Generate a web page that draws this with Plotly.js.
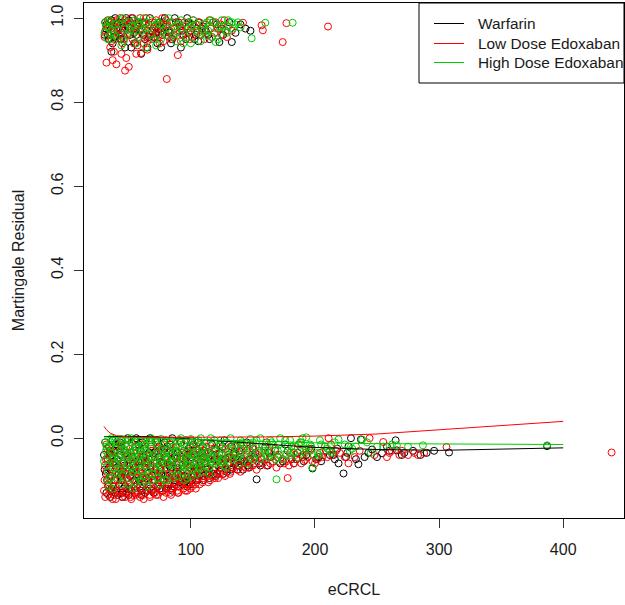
<!DOCTYPE html>
<html>
<head>
<meta charset="utf-8">
<script src="https://cdn.plot.ly/plotly-3.0.1.min.js"></script>
<style>html,body{margin:0;padding:0;background:#fff;}#chart{width:625px;height:605px;}</style>
</head>
<body>
<div id="chart"></div>
<script>
// ---- Data ----
const seriesNames = ["Warfarin", "Low Dose Edoxaban", "High Dose Edoxaban"];

const warfarinX = [
  31,33,35,36,38,40,42,44,46,48,
  32,34,37,39,41,43,45,47,49,50,
  51,52,54,55,57,58,60,61,63,64,
  65,67,68,70,71,73,74,76,77,79,
  80,82,83,85,86,88,89,91,92,94,
  95,97,98,100,101,103,104,106,108,110,
  111,113,115,117,119,121,123,125,127,129,
  131,133,136,139,142,145,148,152,156,160,
  164,168,172,176,181,186,191,197,203,209,
  153,198,219,223,235,246,254,265,266,308,
  387,229,237,215,227,240,258,272,285,296,
  34,39,44,49,53,56,59,62,66,69,
  72,75,78,81,84,87,90,93,96,99,
  102,105,109,112,116,120,124,128,134,140,
  30,32.5,35.5,38.5,41.5,44.5,47.5,50.5,53.5,56.5,
  59.5,62.5,65.5,68.5,71.5,74.5,77.5,80.5,83.5,86.5,
  89.5,92.5,95.5,98.5,101.5,104.5,107.5,110.5,113.5,116.5,
  119.5,122.5,125.5,128.5,131.5,134.5,137.5,141,146,151,
  30.5,33.5,36,39,42,45.5,48.5,51.5,54.5,57.5,
  60.5,63.5,66.5,69.5,72.5,75.5,78.5,81.5,84.5,87.5,
  90.5,93.5,96.5,99.5,102.5,105.5,108.5,111.5,114.5,118,
  35,40,45,50,55,60,65,70,75,80,
  85,90,95,100,105,110,115,120,126,132,
  37,43,49,55,61,67,73,79,85,91,
  31.5,34.5,37.5,40.5,43.5,46.5,49.5,52.5,55.5,58.5,
  61.5,64.5,67.5,70.5,73.5,76.5,79.5,82.5,85.5,88.5,
  91.5,94.5,97.5,100.5,103.5,106.5,109.5,112.5,115.5,118.5,
  135,143,150,157,163,170,178,185,193,201,
  212,218,226,233,243,250,260,270,279,290,
  138,147,155,162,174,183,190,205,216,225,
  // events (upper band)
  31,33,35,37,39,41,43,45,47,49,
  51,53,55,57,59,61,63,65,67,69,
  71,73,75,77,79,82,85,88,91,94,
  97,100,103,106,110,114,118,123,128,133,
  36,44,52,60,68,76,84,92,140,148,
  30.5,32,34,36,38,40,42,44,46,48,
  50,54,58,62,66,70,74,78,83,87,
  93,98,104,109,115,121,126,131,136,144,
  32,35,38,41,45,50,56,63,72,80,
  90,101,112,125,56,66,76,86,96,106
];
const warfarinY = [
  -0.01,-0.05,-0.09,-0.12,-0.03,-0.07,-0.11,-0.02,-0.06,-0.13,
  -0.13,-0.02,-0.06,-0.10,-0.135,-0.04,-0.08,-0.115,-0.005,-0.05,
  -0.09,-0.125,-0.03,-0.07,-0.11,-0.015,-0.055,-0.095,-0.13,-0.04,
  -0.08,-0.12,-0.02,-0.06,-0.10,-0.005,-0.045,-0.085,-0.125,-0.035,
  -0.075,-0.11,-0.015,-0.055,-0.095,-0.03,-0.07,-0.105,-0.01,-0.05,
  -0.09,-0.115,-0.025,-0.065,-0.1,-0.04,-0.08,-0.01,-0.055,-0.09,
  -0.03,-0.07,-0.095,-0.015,-0.05,-0.085,-0.035,-0.065,-0.005,-0.08,
  -0.045,-0.02,-0.06,-0.03,-0.075,-0.01,-0.05,-0.035,-0.065,-0.02,
  -0.045,-0.03,-0.06,-0.015,-0.05,-0.035,-0.055,-0.025,-0.045,-0.03,
  -0.098,-0.072,-0.06,-0.084,-0.062,-0.027,-0.036,-0.005,-0.029,-0.034,
  -0.019,0.0,-0.003,-0.04,-0.02,-0.045,-0.02,-0.035,-0.04,-0.03,
  -0.07,-0.015,-0.1,-0.08,-0.045,0.0,-0.115,-0.025,-0.05,-0.09,
  -0.03,-0.11,-0.06,-0.02,-0.12,-0.045,-0.085,-0.065,-0.005,-0.105,
  -0.015,-0.07,-0.035,-0.085,-0.06,-0.025,-0.07,-0.05,-0.07,-0.055,
  -0.04,-0.1,-0.125,-0.055,-0.02,-0.13,-0.035,-0.11,-0.065,-0.085,
  -0.03,-0.105,-0.06,-0.125,-0.075,-0.02,-0.1,-0.045,-0.07,-0.115,
  -0.035,-0.09,-0.055,-0.08,-0.03,-0.1,-0.065,-0.045,-0.085,-0.04,
  -0.07,-0.055,-0.02,-0.075,-0.06,-0.04,-0.075,-0.05,-0.065,-0.045,
  -0.075,-0.115,-0.04,-0.13,-0.085,-0.12,-0.095,-0.035,-0.1,-0.055,
  -0.125,-0.07,-0.035,-0.1,-0.055,-0.075,-0.025,-0.09,-0.05,-0.1,
  -0.06,-0.11,-0.045,-0.02,-0.09,-0.05,-0.075,-0.06,-0.035,-0.075,
  -0.14,-0.125,-0.14,-0.135,-0.13,-0.135,-0.125,-0.13,-0.12,-0.12,
  -0.125,-0.115,-0.105,-0.11,-0.1,-0.1,-0.085,-0.09,-0.085,-0.075,
  -0.005,-0.01,0.0,-0.005,-0.01,0.0,-0.005,-0.01,0.0,-0.005,
  -0.085,-0.035,-0.115,-0.05,-0.09,-0.065,-0.12,-0.08,-0.02,-0.1,
  -0.045,-0.095,-0.07,-0.035,-0.115,-0.055,-0.09,-0.065,-0.035,-0.08,
  -0.1,-0.03,-0.085,-0.045,-0.07,-0.09,-0.02,-0.075,-0.05,-0.085,
  -0.035,-0.055,-0.025,-0.05,-0.035,-0.045,-0.03,-0.05,-0.04,-0.05,
  -0.04,-0.025,-0.035,-0.05,-0.035,-0.045,-0.03,-0.04,-0.03,-0.035,
  -0.065,-0.07,-0.06,-0.065,-0.055,-0.06,-0.045,-0.055,-0.05,-0.045,
  0.99,0.96,0.98,0.94,1.0,0.97,0.95,0.99,0.93,0.98,
  0.96,1.0,0.94,0.98,0.97,0.99,0.95,0.93,1.0,0.97,
  0.98,0.94,0.99,0.96,1.0,0.97,0.95,0.99,0.98,0.96,
  1.0,0.97,0.95,0.99,0.98,0.96,0.99,0.943,0.97,0.943,
  0.92,0.95,0.93,0.915,0.96,0.93,0.94,0.93,0.985,0.97,
  0.96,0.985,0.95,0.995,0.97,0.955,0.99,0.965,0.975,1.0,
  0.98,0.965,0.99,0.96,0.985,0.955,0.975,0.99,0.965,1.0,
  0.97,0.99,0.96,0.975,0.95,0.985,0.96,0.99,0.965,0.975,
  0.975,0.99,0.955,0.985,0.97,0.995,0.975,0.985,0.965,0.98,
  0.99,0.985,0.97,0.975,0.96,0.955,0.97,0.96,0.95,0.945
];

const lowDoseX = [
  31,32,34,35,37,38,40,41,43,44,
  46,47,49,50,52,53,55,56,58,59,
  61,62,64,65,67,68,70,71,73,74,
  76,77,79,80,82,83,85,86,88,89,
  91,92,94,95,97,98,100,101,103,104,
  106,107,109,110,112,114,116,118,120,122,
  124,126,128,130,132,135,138,141,144,147,
  150,154,158,162,166,170,175,180,185,190,
  178,192,211,227,244,255,268,280,288,306,
  439,196,202,208,214,220,232,262,275,260,
  33,36,39,42,45,48,51,54,57,60,
  63,66,69,72,75,78,81,84,87,90,
  93,96,99,102,105,108,111,115,119,125,
  30.5,32.5,34.5,36.5,38.5,40.5,42.5,44.5,46.5,48.5,
  52,57,62,67,72,78,84,90,97,104,
  30,31.5,33.5,35.5,37.5,39.5,41.5,43.5,45.5,47.5,
  49.5,51.5,53.5,55.5,57.5,59.5,61.5,63.5,65.5,67.5,
  69.5,71.5,73.5,75.5,77.5,79.5,81.5,83.5,85.5,87.5,
  89.5,91.5,93.5,95.5,97.5,99.5,101.5,103.5,105.5,107.5,
  109.5,111.5,113.5,115.5,117.5,119.5,121.5,123.5,125.5,127.5,
  129.5,131.5,134,137,140,143,146,149,153,157,
  161,165,169,174,179,184,189,194,200,206,
  32,36,40,44,48,52,56,60,64,68,
  72,76,80,84,88,92,96,100,104,108,
  112,116,120,124,128,132,136,140,145,150,
  34,39,44,49,54,59,64,69,74,79,
  84,89,94,99,104,109,114,119,124,130,
  30.8,33,35.8,38,40.8,43,45.8,48,50.8,53,
  55.8,58,60.8,63,65.8,68,70.8,73,75.8,78,
  80.8,83,85.8,88,90.8,93,95.8,98,100.8,103,
  133,139,145,152,159,164,171,177,183,188,
  198,204,210,217,224,236,248,258,270,283,
  136,142,148,155,161,168,181,187,195,213,
  // events (upper band)
  31,33,35,37,39,41,43,45,47,49,
  51,53,55,57,59,61,63,65,67,69,
  71,73,75,77,79,81,84,87,90,93,
  96,99,102,105,108,112,116,120,125,130,
  32,37,40,47,48,50,56,60,80.6,89.5,
  142,157,158,174,177,210.5,288,38,44,65,
  30.5,32,34,36,38,40,42,44,46,48,
  50,52,54,56,58,60,62,64,66,68,
  70,72,74,76,78,80,83,86,89,92,
  95,98,101,104,107,111,115,119,124,129,
  33,36,39,42,47,52,57,62,67,73,
  78,85,91,97,103,109,117,122,127,133
];
const lowDoseY = [
  -0.14,-0.08,-0.12,-0.03,-0.145,-0.1,-0.06,-0.13,-0.015,-0.11,
  -0.07,-0.14,-0.04,-0.12,-0.09,-0.135,-0.02,-0.105,-0.065,-0.14,
  -0.11,-0.04,-0.125,-0.08,-0.135,-0.05,-0.1,-0.13,-0.02,-0.09,
  -0.125,-0.06,-0.11,-0.13,-0.035,-0.095,-0.12,-0.07,-0.105,-0.125,
  -0.05,-0.1,-0.12,-0.08,-0.11,-0.03,-0.09,-0.115,-0.06,-0.1,
  -0.075,-0.11,-0.04,-0.095,-0.085,-0.105,-0.06,-0.09,-0.07,-0.095,
  -0.05,-0.085,-0.07,-0.04,-0.08,-0.06,-0.075,-0.03,-0.07,-0.05,
  -0.065,-0.04,-0.06,-0.03,-0.055,-0.045,-0.06,-0.035,-0.05,-0.04,
  -0.095,-0.052,0.0,-0.06,0.0,-0.009,-0.04,-0.035,-0.035,-0.021,
  -0.034,-0.03,-0.05,-0.02,-0.04,-0.035,-0.045,-0.03,-0.04,-0.035,
  -0.05,-0.125,-0.085,-0.045,-0.1,-0.02,-0.075,-0.115,-0.045,-0.085,
  -0.065,-0.1,-0.03,-0.115,-0.045,-0.085,-0.06,-0.015,-0.095,-0.075,
  -0.035,-0.06,-0.07,-0.02,-0.045,-0.065,-0.03,-0.05,-0.04,-0.025,
  -0.1,-0.025,-0.06,-0.09,-0.035,-0.125,-0.075,-0.14,-0.03,-0.095,
  -0.145,-0.13,-0.145,-0.14,-0.135,-0.14,-0.135,-0.13,-0.125,-0.12,
  -0.125,-0.05,-0.135,-0.07,-0.115,-0.145,-0.085,-0.125,-0.055,-0.13,
  -0.1,-0.14,-0.06,-0.125,-0.095,-0.075,-0.135,-0.09,-0.115,-0.065,
  -0.12,-0.085,-0.135,-0.1,-0.125,-0.07,-0.115,-0.13,-0.09,-0.11,
  -0.13,-0.08,-0.105,-0.125,-0.065,-0.12,-0.085,-0.11,-0.095,-0.07,
  -0.105,-0.07,-0.09,-0.1,-0.075,-0.095,-0.055,-0.085,-0.075,-0.09,
  -0.06,-0.085,-0.07,-0.05,-0.08,-0.06,-0.07,-0.055,-0.075,-0.05,
  -0.065,-0.045,-0.07,-0.05,-0.065,-0.04,-0.06,-0.045,-0.06,-0.045,
  -0.015,-0.035,-0.02,-0.005,-0.04,-0.01,-0.035,-0.015,-0.005,-0.03,
  -0.01,-0.025,-0.005,-0.04,-0.02,-0.01,-0.035,-0.005,-0.025,-0.015,
  -0.02,-0.01,-0.03,-0.015,-0.025,-0.02,-0.035,-0.015,-0.03,-0.02,
  -0.095,-0.065,-0.08,-0.06,-0.08,-0.05,-0.06,-0.08,-0.065,-0.045,
  -0.055,-0.045,-0.05,-0.04,-0.07,-0.05,-0.035,-0.025,-0.06,-0.045,
  -0.065,-0.11,-0.045,-0.135,-0.1,-0.07,-0.13,-0.085,-0.11,-0.055,
  -0.135,-0.08,-0.12,-0.1,-0.06,-0.125,-0.085,-0.11,-0.075,-0.1,
  -0.12,-0.085,-0.105,-0.06,-0.115,-0.09,-0.1,-0.11,-0.075,-0.09,
  -0.045,-0.065,-0.04,-0.06,-0.045,-0.06,-0.04,-0.055,-0.06,-0.03,
  -0.055,-0.035,-0.045,-0.03,-0.045,-0.03,-0.04,-0.045,-0.03,-0.04,
  -0.02,-0.025,-0.015,-0.03,-0.01,-0.025,-0.02,-0.015,-0.025,-0.015,
  0.97,0.995,0.93,0.985,0.95,0.97,1.0,0.94,0.98,0.96,
  0.99,0.95,0.975,0.935,1.0,0.96,0.985,0.945,0.97,0.99,
  0.955,0.98,0.94,1.0,0.965,0.985,0.95,0.975,0.99,0.96,
  0.98,0.95,0.995,0.97,0.96,0.985,0.975,0.99,0.96,0.98,
  0.894,0.9,0.89,0.875,0.905,0.884,0.915,0.917,0.855,0.912,
  0.989,0.983,0.971,0.943,0.988,0.98,0.98,0.92,0.915,0.925,
  0.955,0.98,0.99,0.945,0.975,0.995,0.96,0.985,0.95,0.99,
  0.965,1.0,0.94,0.98,0.955,0.975,0.94,1.0,0.985,0.95,
  0.975,0.995,0.96,0.98,0.945,0.995,0.97,0.955,0.98,0.945,
  0.99,0.965,0.955,0.985,0.99,0.95,0.995,0.965,0.985,0.955,
  0.98,0.965,0.99,0.975,0.995,0.975,0.985,0.99,0.96,0.97,
  0.985,0.99,0.97,0.975,0.98,0.97,0.955,0.975,0.995,0.97
];

const highDoseX = [
  31,33,35,37,39,41,43,45,47,49,
  51,53,55,57,59,61,63,65,67,69,
  71,73,75,77,79,81,83,85,87,89,
  91,93,95,97,99,101,103,105,107,109,
  111,113,115,117,119,121,123,125,127,129,
  131,134,137,140,143,146,150,154,158,162,
  166,170,174,178,183,188,193,199,205,212,
  169,193,198,219,238,266,287,387,250,230,
  34,38,42,46,50,54,58,62,66,70,
  74,78,82,86,90,94,98,102,106,110,
  36,44,52,60,68,76,84,92,100,108,
  116,124,132,140,148,156,164,172,180,190,
  30,32,34,36,38,40,42,44,46,48,
  50,52,54,56,58,60,62,64,66,68,
  70,72,74,76,78,80,82,84,86,88,
  90,92,94,96,98,100,102,104,106,108,
  110,112,114,116,118,120,122,124,126,128,
  130,133,136,139,142,145,148,152,156,160,
  164,168,173,177,181,186,191,196,202,208,
  33,37,41,45,49,53,57,61,65,69,
  73,77,81,85,89,93,97,101,105,109,
  31.5,35.5,39.5,43.5,47.5,51.5,55.5,59.5,63.5,67.5,
  32.5,36.5,40.5,44.5,48.5,52.5,56.5,60.5,64.5,68.5,
  72.5,76.5,80.5,84.5,88.5,92.5,96.5,100.5,104.5,108.5,
  112.5,116.5,120.5,124.5,128.5,35,55,75,95,115,
  135,141,147,153,159,165,171,176,184,189,
  197,204,210,216,224,233,242,255,262,275,
  138,150,161,170,180,192,203,214,228,245,
  // events (upper band)
  32,34,38,42,46,50,54,58,62,66,
  70,74,78,82,86,90,94,98,102,106,
  110,114,118,122,126,130,133,140,149,160,
  182,120,44,56,72,100,36,64,88,112,
  30.5,33,35,37,40,43,46,49,52,55,
  58,61,64,68,72,76,80,84,88,92,
  96,100,104,108,113,117,121,125,129,136,
  31,34,39,45,51,57,63,69,75,81,
  87,93,99,105,111,116,123,128,134,138
];
const highDoseY = [
  -0.01,-0.04,-0.02,-0.07,-0.005,-0.05,-0.03,-0.09,-0.015,-0.06,
  -0.025,-0.08,-0.01,-0.045,-0.1,-0.02,-0.065,-0.035,-0.005,-0.085,
  -0.04,-0.015,-0.06,-0.025,-0.1,-0.05,-0.01,-0.075,-0.03,-0.055,
  -0.005,-0.04,-0.07,-0.02,-0.05,-0.09,-0.01,-0.035,-0.06,-0.025,
  -0.045,-0.01,-0.07,-0.03,-0.005,-0.055,-0.02,-0.04,-0.065,-0.01,
  -0.03,-0.05,-0.015,-0.04,-0.025,-0.06,-0.01,-0.035,-0.02,-0.045,
  -0.015,-0.03,-0.05,-0.02,-0.035,-0.01,-0.025,-0.04,-0.015,-0.03,
  -0.098,0.002,-0.07,-0.003,-0.003,-0.017,-0.017,-0.017,-0.02,-0.025,
  -0.115,-0.045,-0.075,-0.035,-0.11,-0.05,-0.02,-0.09,-0.045,-0.06,
  -0.08,-0.04,-0.03,-0.095,-0.02,-0.06,-0.035,-0.07,-0.005,-0.05,
  0.0,-0.002,0.0,-0.005,0.0,-0.002,-0.005,0.0,-0.002,0.0,
  0.0,-0.005,0.0,-0.005,-0.002,0.0,-0.005,0.0,-0.005,0.0,
  -0.055,-0.02,-0.08,-0.035,-0.06,-0.01,-0.045,-0.07,-0.025,-0.04,
  -0.005,-0.055,-0.03,-0.075,-0.04,-0.06,-0.015,-0.05,-0.085,-0.025,
  -0.07,-0.005,-0.035,-0.05,-0.015,-0.03,-0.06,-0.04,-0.02,-0.045,
  -0.075,-0.025,-0.015,-0.045,-0.065,-0.02,-0.04,-0.055,-0.03,-0.07,
  -0.02,-0.055,-0.035,-0.05,-0.06,-0.03,-0.045,-0.015,-0.05,-0.035,
  -0.05,-0.025,-0.04,-0.06,-0.015,-0.035,-0.045,-0.02,-0.05,-0.03,
  -0.035,-0.05,-0.025,-0.04,-0.02,-0.045,-0.03,-0.015,-0.035,-0.02,
  -0.1,-0.12,-0.095,-0.11,-0.08,-0.12,-0.09,-0.105,-0.115,-0.1,
  -0.095,-0.085,-0.1,-0.055,-0.09,-0.08,-0.095,-0.075,-0.085,-0.08,
  -0.03,-0.01,-0.025,-0.015,-0.005,-0.035,-0.02,-0.04,-0.025,-0.01,
  -0.065,-0.05,-0.085,-0.06,-0.045,-0.07,-0.06,-0.08,-0.065,-0.045,
  -0.055,-0.07,-0.045,-0.065,-0.03,-0.05,-0.065,-0.04,-0.06,-0.04,
  -0.065,-0.045,-0.06,-0.055,-0.07,-0.095,-0.105,-0.11,-0.1,-0.085,
  -0.02,-0.01,-0.03,-0.005,-0.025,-0.01,-0.015,-0.005,-0.02,-0.01,
  -0.02,-0.005,-0.025,-0.01,-0.015,-0.02,-0.01,-0.02,-0.015,-0.02,
  -0.045,-0.05,-0.04,-0.045,-0.04,-0.035,-0.04,-0.035,-0.03,-0.035,
  0.98,0.995,0.96,0.985,0.945,0.99,0.97,0.955,1.0,0.975,
  0.95,0.99,0.97,1.0,0.96,0.985,0.94,0.975,0.995,0.965,
  0.985,0.97,0.99,0.95,0.98,0.995,0.99,0.978,0.952,0.989,
  0.989,0.943,0.935,0.94,0.935,0.94,0.95,0.93,0.945,0.96,
  0.965,0.95,0.99,0.97,0.955,0.995,0.975,0.96,0.98,0.995,
  0.985,0.97,0.99,0.96,0.985,0.95,0.975,0.99,0.965,0.995,
  0.955,0.98,0.97,0.945,0.99,0.955,0.975,0.995,0.965,0.985,
  0.99,0.975,0.985,1.0,0.97,0.99,0.975,0.995,0.985,0.96,
  0.98,0.975,0.99,0.985,0.97,0.995,0.98,0.97,0.975,0.99
];

// smoothed trend lines
const fitX        = [30, 32, 35, 40, 50, 60, 80, 100, 130, 160, 200, 250, 300, 350, 400];
const warfarinFit = [0.004,0.004,0.005,0.005,0.005,0.004,0.002,-0.002,-0.008,-0.015,-0.022,-0.027,-0.029,-0.026,-0.023];
const lowDoseFit  = [0.028,0.02,0.012,0.006,0.003,0.002,0.002,0.002,0.003,0.003,0.005,0.010,0.020,0.030,0.040];
const highDoseFit = [0.003,0.003,0.002,0.002,0.001,0.0,-0.001,-0.003,-0.005,-0.008,-0.011,-0.013,-0.014,-0.015,-0.015];

const yTickVals = [0, 0.2, 0.4, 0.6, 0.8, 1.0];
const yTickText = ["0.0", "0.2", "0.4", "0.6", "0.8", "1.0"];
const xTickVals = [100, 200, 300, 400];

// ---- Styling ----
const colors = ["#000000", "#FF0000", "#00CD00"];
const W = 625, H = 605;
const M = {l: 84, r: 1, t: 3, b: 87};
const pw = W - M.l - M.r, ph = H - M.t - M.b;
const px = p => (p - M.l) / pw;      // pixel -> paper x
const py = p => (H - M.b - p) / ph;  // pixel -> paper y
const font = {family: "Liberation Sans, Arial, sans-serif", size: 16, color: "#1a1a1a"};
const legFont = {family: "Liberation Sans, Arial, sans-serif", size: 15.4, color: "#1a1a1a"};

const pts = [[warfarinX, warfarinY], [lowDoseX, lowDoseY], [highDoseX, highDoseY]];
const fits = [warfarinFit, lowDoseFit, highDoseFit];

const traces = [];
pts.forEach((d, i) => traces.push({
  type: "scatter", mode: "markers", x: d[0], y: d[1], name: seriesNames[i],
  showlegend: false, hoverinfo: "skip",
  marker: {symbol: "circle-open", size: 7, color: colors[i], line: {width: 1, color: colors[i]}}
}));
fits.forEach((f, i) => traces.push({
  type: "scatter", mode: "lines", x: fitX, y: f, name: seriesNames[i],
  showlegend: false, line: {color: colors[i], width: 1}
}));

// manual legend box mimicking R's legend("topright")
const legL = 419, legR = 624, legT = 3, legB = 83;
const rowsY = [23.5, 43.5, 62.5];
const shapes = [{
  type: "rect", xref: "paper", yref: "paper",
  x0: px(legL), x1: px(legR), y0: py(legB), y1: py(legT),
  line: {color: "#000", width: 1}, fillcolor: "#fff", layer: "above"
}];
const annotations = [];
seriesNames.forEach((n, i) => {
  shapes.push({type: "line", xref: "paper", yref: "paper",
    x0: px(434), x1: px(464), y0: py(rowsY[i]), y1: py(rowsY[i]),
    line: {color: colors[i], width: 1}, layer: "above"});
  annotations.push({xref: "paper", yref: "paper", x: px(476), y: py(rowsY[i]),
    xanchor: "left", yanchor: "middle", text: n, showarrow: false, font: legFont});
});

const layout = {
  width: W, height: H, margin: M,
  paper_bgcolor: "#fff", plot_bgcolor: "#fff",
  font: font, showlegend: false,
  xaxis: {
    range: [13.9, 449], tickvals: xTickVals, ticks: "outside", ticklen: 9, tickwidth: 1,
    tickcolor: "#333", showline: true, mirror: true, linecolor: "#000", linewidth: 1,
    showgrid: false, zeroline: false, tickfont: font, ticklabelstandoff: 8,
    title: {text: "eCRCL", font: font, standoff: 26}
  },
  yaxis: {
    range: [-0.19, 1.036], tickvals: yTickVals, ticktext: yTickText, tickangle: -90,
    ticks: "outside", ticklen: 9, tickwidth: 1, tickcolor: "#333",
    showline: true, mirror: true, linecolor: "#000", linewidth: 1,
    showgrid: false, zeroline: false, tickfont: font, ticklabelstandoff: 5,
    title: {text: "Martingale Residual", font: font, standoff: 19}
  },
  shapes: shapes, annotations: annotations
};

Plotly.newPlot("chart", traces, layout, {staticPlot: true, displayModeBar: false});
</script>
</body>
</html>
